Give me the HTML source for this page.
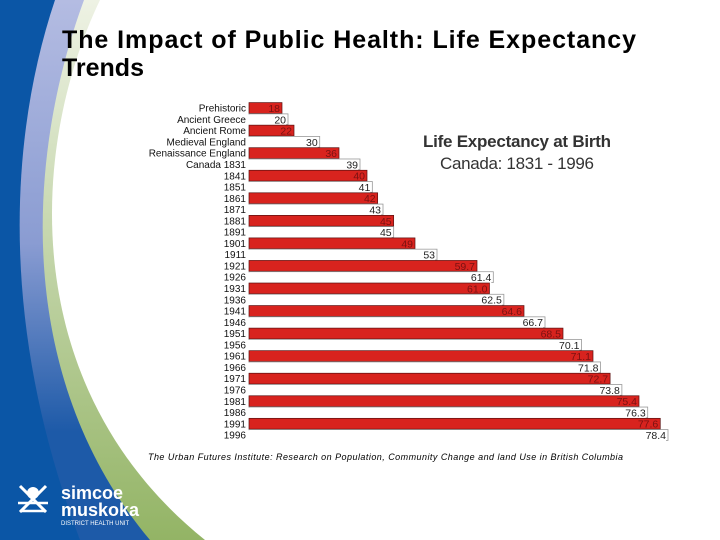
<!DOCTYPE html>
<html><head><meta charset="utf-8"><style>
html,body{margin:0;padding:0;background:#fff}
#root{position:relative;width:720px;height:540px;overflow:hidden;font-family:"Liberation Sans",sans-serif}
svg{position:absolute;left:0;top:0}
</style></head><body>
<div id="root">
<svg width="720" height="540" viewBox="0 0 720 540">
<defs>
<linearGradient id="gband" x1="0" y1="0" x2="0" y2="1">
<stop offset="0" stop-color="#eef2e4"/><stop offset="0.4" stop-color="#c9d9b2"/><stop offset="1" stop-color="#93b465"/>
</linearGradient>
<linearGradient id="lband" x1="0" y1="0" x2="0" y2="1">
<stop offset="0" stop-color="#b4bce2"/><stop offset="0.45" stop-color="#8a9cd2"/><stop offset="0.8" stop-color="#1d5aa8"/>
</linearGradient>
</defs>
<g>
<rect x="0" y="0" width="720" height="540" fill="#0b56a6"/>
<path d="M55,0 C8,140 0,330 80,540 L720,540 L720,0 Z" fill="url(#lband)"/>
<path d="M84,0 C25,160 15,380 150,540 L720,540 L720,0 Z" fill="url(#gband)"/>
<path d="M100,0 C28,150 18,390 205,540 L720,540 L720,0 Z" fill="#ffffff"/>
</g>
<g>
<circle cx="33" cy="493" r="6" fill="#fff"/>
<path d="M20,486 L46,512 M46,486 L20,512" stroke="#fff" stroke-width="3" fill="none"/>
<path d="M18,503 L48,503 M20,511 L46,511" stroke="#fff" stroke-width="2.5"/>
<text x="61" y="499" font-size="18" font-weight="bold" fill="#fff">simcoe</text>
<text x="61" y="516" font-size="18" font-weight="bold" fill="#fff">muskoka</text>
<text x="61" y="525" font-size="6" fill="#fff">DISTRICT HEALTH UNIT</text>
</g>
<text x="62" y="48" font-size="25" font-weight="bold" fill="#000" textLength="574">The Impact of Public Health: Life Expectancy</text>
<text x="62" y="76" font-size="25" font-weight="bold" fill="#000">Trends</text>
<text x="423" y="147" font-size="17" font-weight="bold" fill="#333" textLength="188">Life Expectancy at Birth</text>
<text x="440" y="169" font-size="17" fill="#333" textLength="154">Canada: 1831 - 1996</text>
<text x="148" y="460" font-size="9" font-style="italic" fill="#000" textLength="475">The Urban Futures Institute: Research on Population, Community Change and land Use in British Columbia</text>
<g id="chart"></g>
</svg>
</div>
<script>
const categories = ["Prehistoric","Ancient Greece","Ancient Rome","Medieval England","Renaissance England","Canada 1831","1841","1851","1861","1871","1881","1891","1901","1911","1921","1926","1931","1936","1941","1946","1951","1956","1961","1966","1971","1976","1981","1986","1991","1996"];
const values = [18,20,22,30,36,39,40,41,42,43,45,45,49,53,59.7,61.4,61.0,62.5,64.6,66.7,68.5,70.1,71.1,71.8,72.7,73.8,75.4,76.3,77.6,78.4];
const valueLabels = ["18","20","22","30","36","39","40","41","42","43","45","45","49","53","59.7","61.4","61.0","62.5","64.6","66.7","68.5","70.1","71.1","71.8","72.7","73.8","75.4","76.3","77.6","78.4"];

const NS="http://www.w3.org/2000/svg";
const g=document.getElementById('chart');
// value axis (the source chart is not linearly scaled; piecewise scale)
const kd=[0,18,22,36,40,49,53,59.7,64.6,68.5,71.1,75.4,78.4,100];
const kp=[249,282,294,339,367,415,437,477,524,563,593,639,668,800];
function xScale(v){
  for(let i=1;i<kd.length;i++){ if(v<=kd[i]){const t=(v-kd[i-1])/(kd[i]-kd[i-1]);return kp[i-1]+t*(kp[i]-kp[i-1]);} }
  return kp[kp.length-1];
}
const y0=108, step=(435-108)/29;
function yScale(i){return y0+i*step;}
const bx=249;
function mk(tag,attrs){const e=document.createElementNS(NS,tag);for(const k in attrs)e.setAttribute(k,attrs[k]);return e;}
categories.forEach((c,i)=>{
  const yc=yScale(i), xe=xScale(values[i]);
  const lab=mk('text',{x:246,y:yc+3.6,'font-size':10,'text-anchor':'end',fill:'#111'});
  lab.textContent=c;
  
  
  g.appendChild(lab);
  const red=i%2===0;
  const r=mk('rect',{x:bx,y:yc-5.4,width:xe-bx,height:10.8,fill:red?'#d8231e':'#ffffff',stroke:red?'#5a1010':'#999','stroke-width':red?0.7:0.8});
  
  
  g.appendChild(r);
  if(!red){ g.appendChild(mk('rect',{x:bx-1,y:yc-4.8,width:xe-bx-1,height:10.8,fill:'#fff'})); }
  const t=mk('text',{x:xe-2,y:yc+4,'font-size':10.5,'text-anchor':'end',fill:red?'#7a1212':'#222'});
  t.textContent=valueLabels[i];
  
  
  g.appendChild(t);
});
</script>
</body></html>
